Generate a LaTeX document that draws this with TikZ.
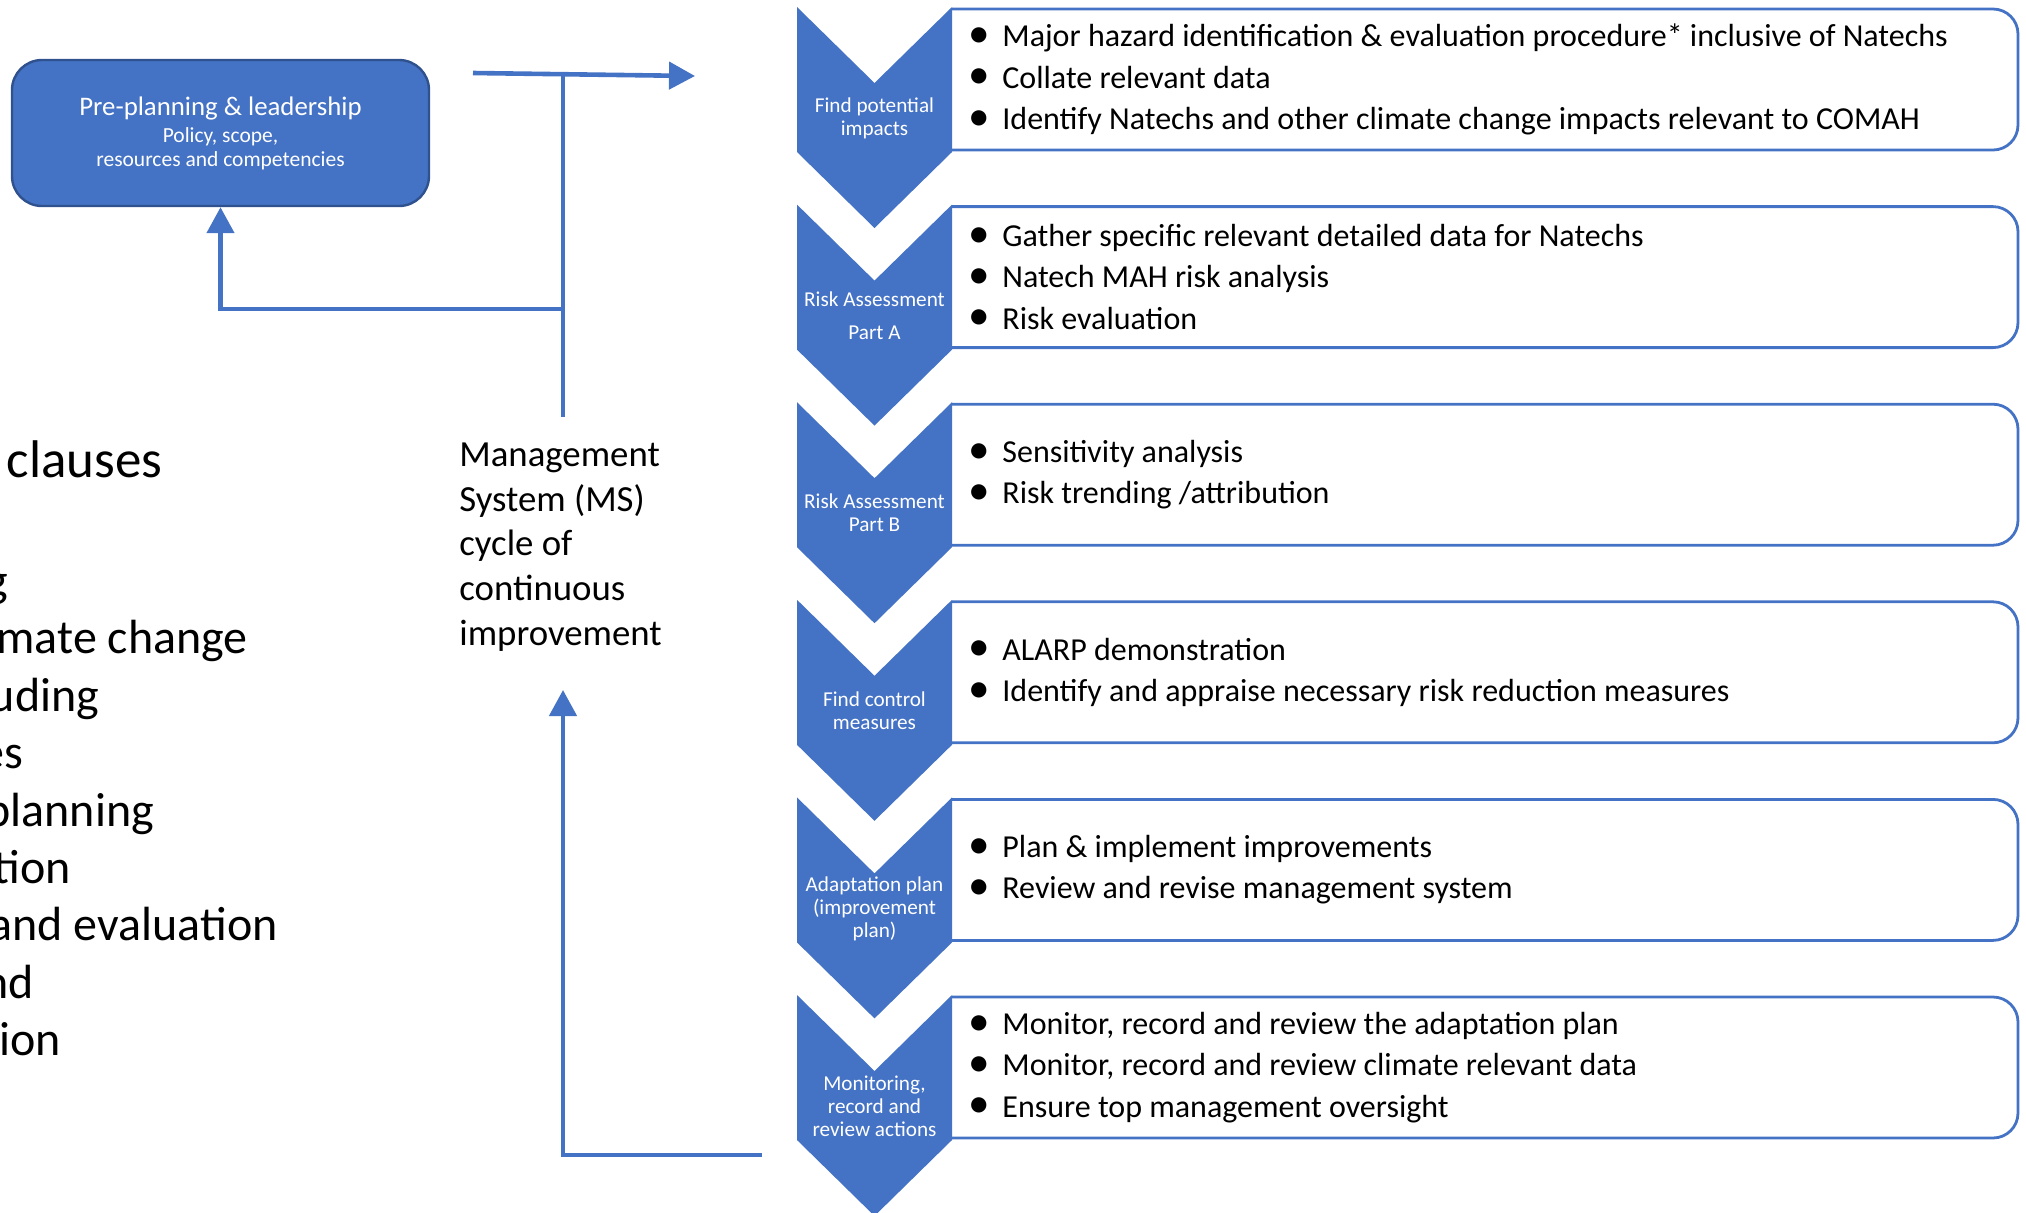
\documentclass[tikz,border=0pt]{standalone}
\usepackage{fontspec}
\usepackage{graphicx}
\setmainfont{Carlito}
\usetikzlibrary{arrows.meta}
\definecolor{accent}{HTML}{4472C4}
\definecolor{accentdark}{HTML}{2F528F}
\newcommand\bul{\makebox[0pt][c]{\raisebox{-0.05ex}{\scalebox{1.35}{•}}}\hspace{11.5pt}}

\begin{document}
\begin{tikzpicture}[x=0.5pt,y=-0.5pt,
  flow/.style={draw=accent, line width=2.3pt},
  tipped/.style={flow, -{Triangle[length=13pt,width=13.5pt]}},
  chev/.style={fill=accent},
  stagebox/.style={draw=accent, line width=1.4pt, rounded corners=12.5pt},
  stagelabel/.style={text=white, align=center, inner sep=0pt,
    font=\fontsize{10.6}{11.5}\selectfont},
  items/.style={anchor=west, align=left, inner sep=0pt,
    font=\fontsize{16}{20.65}\selectfont},
  planbox/.style={fill=accent, draw=accentdark, line width=1.2pt,
    rounded corners=15pt, minimum width=208.5pt, minimum height=73pt,
    text=white, align=center, inner sep=0pt},
  clause/.style={anchor=base east, inner sep=0pt,
    font=\fontsize{24}{28.8}\selectfont},
  mslabel/.style={anchor=west, align=left, inner sep=0pt,
    font=\fontsize{18.4}{22.3}\selectfont}
]
\useasboundingbox (0,0) rectangle (2026,1212);
\clip (0,0) rectangle (2026,1212);

% stage boxes with their bullet lists
\foreach \k/\txt in {
  0/{\bul Major hazard identification \& evaluation procedure* inclusive of Natechs\\
     \bul Collate relevant data\\
     \bul Identify Natechs and other climate change impacts relevant to COMAH},
  1/{\bul Gather specific relevant detailed data for Natechs\\
     \bul Natech MAH risk analysis\\
     \bul Risk evaluation},
  2/{\bul Sensitivity analysis\\
     \bul Risk trending /attribution},
  3/{\bul ALARP demonstration\\
     \bul Identify and appraise necessary risk reduction measures},
  4/{\bul Plan \& implement improvements\\
     \bul Review and revise management system},
  5/{\bul Monitor, record and review the adaptation plan\\
     \bul Monitor, record and review climate relevant data\\
     \bul Ensure top management oversight}}
{
  \pgfmathsetmacro\bt{9+197.6*\k}
  \draw[stagebox] (952,\bt) -- (2018,\bt) -- (2018,\bt+141) -- (952,\bt+141);
  \node[items] (items\k) at (979,\bt+70.5) {\txt};
}

% chevrons with stage names
\foreach \k/\lab in {
  0/{Find potential\\impacts},
  1/{Risk Assessment\\[5pt]Part A},
  2/{Risk Assessment\\Part B},
  3/{Find control\\measures},
  4/{Adaptation plan\\(improvement\\plan)},
  5/{Monitoring,\\record and\\review actions}}
{
  \pgfmathsetmacro\ct{7+197.6*\k}
  \fill[chev] (797,\ct) -- (874.5,\ct+76) -- (952,\ct) -- (952,\ct+145)
    -- (874.5,\ct+221) -- (797,\ct+145) -- cycle;
  \node[stagelabel] (stage\k) at (874.5,\ct+111) {\lab};
}

% pre-planning box
\node[planbox] (plan) at (220.5,133)
  {{\fontsize{13.4}{14}\selectfont Pre-planning \& leadership}\\[1.5pt]
   {\fontsize{10.75}{14}\selectfont Policy, scope,}\\
   {\fontsize{10.75}{14}\selectfont resources and competencies}};

% management system label
\node[mslabel] (ms) at (459,547)
  {Management\\System (MS)\\cycle of\\continuous\\improvement};

% clause list running off the left edge
\node[clause, font=\fontsize{26.5}{28.8}\selectfont] (c0) at (163,477) {clauses};
\node[clause] (c1) at (8,596.5) {g};
\node[clause] (c2) at (248,653.9) {mate change};
\node[clause] (c3) at (99.5,711.3) {uding};
\node[clause] (c4) at (24,768.7) {es};
\node[clause] (c5) at (154.5,826.1) {planning};
\node[clause] (c6) at (71.5,883.5) {tion};
\node[clause] (c7) at (278,940.9) {and evaluation};
\node[clause] (c8) at (34.5,998.3) {nd};
\node[clause] (c9) at (61.5,1055.7) {ion};

% cycle connectors
\coordinate (feedL) at (473,73);
\coordinate (feedR) at (695,76);
\coordinate (stemTop) at (563,74.5);
\coordinate (stemLow) at (563,417);
\coordinate (branch) at (563,309);
\coordinate (loopEnd) at (762,1155);
\coordinate (loopTip) at (563,690);

\draw[tipped] (feedL) -- (feedR);
\draw[flow] (stemLow) -- (stemTop);
\draw[tipped] (branch) -| (plan.south);
\draw[tipped] (loopEnd) -| (loopTip);
\end{tikzpicture}
\end{document}
